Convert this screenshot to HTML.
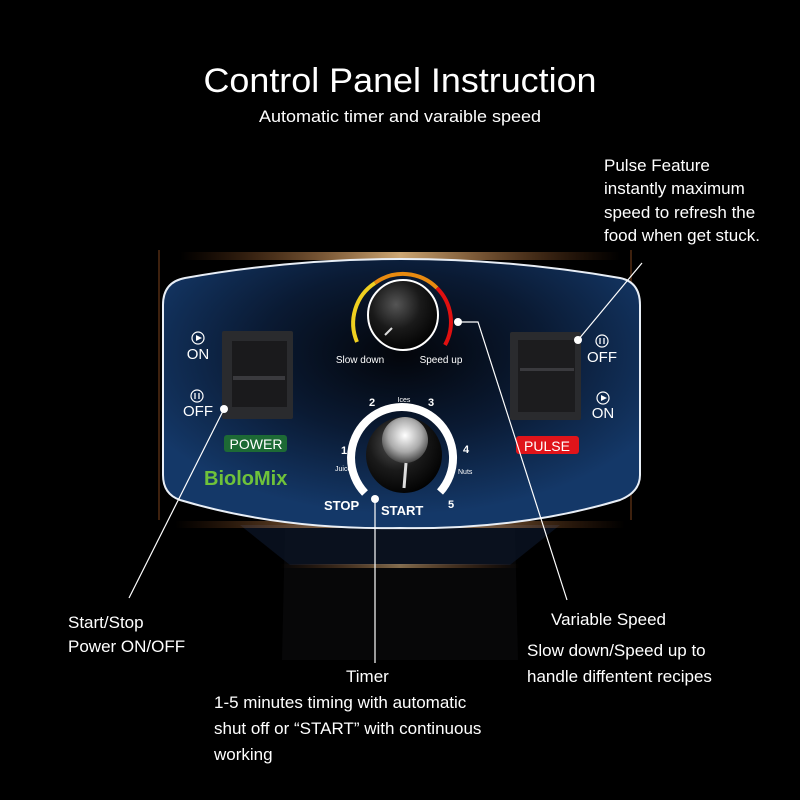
<!DOCTYPE html>
<html><head><meta charset="utf-8"><style>
html,body{margin:0;padding:0;background:#000;width:800px;height:800px;overflow:hidden}
svg{display:block}
text{font-family:"Liberation Sans Narrow","Liberation Sans",sans-serif;fill:#fff}
</style></head><body>
<svg width="800" height="800" viewBox="0 0 800 800" xmlns="http://www.w3.org/2000/svg">
<defs>
<radialGradient id="pg" cx="0.5" cy="0.35" r="0.6">
<stop offset="0" stop-color="#03050a"/><stop offset="0.5" stop-color="#0a1a33"/><stop offset="1" stop-color="#143868"/>
</radialGradient>
<linearGradient id="glow" x1="0" x2="1"><stop offset="0" stop-color="#c06020" stop-opacity="0"/><stop offset="0.5" stop-color="#ffd090"/><stop offset="1" stop-color="#c06020" stop-opacity="0"/></linearGradient>
<radialGradient id="knob" cx="0.4" cy="0.35" r="0.7"><stop offset="0" stop-color="#555"/><stop offset="0.5" stop-color="#1a1a1a"/><stop offset="1" stop-color="#000"/></radialGradient>
<radialGradient id="metal" cx="0.5" cy="0.4" r="0.6"><stop offset="0" stop-color="#fff"/><stop offset="0.6" stop-color="#aaa"/><stop offset="1" stop-color="#444"/></radialGradient>
</defs>
<rect width="800" height="800" fill="#000"/>
<!-- faint blender body -->
<path d="M285 528 L515 528 L518 660 L282 660 Z" fill="#070708"/>
<path d="M240 525 L560 525 L510 565 L290 565 Z" fill="#0b1628" opacity="0.7"/>
<rect x="280" y="564" width="240" height="4" fill="url(#glow)" opacity="0.5"/>
<!-- side glows -->
<rect x="158" y="250" width="2" height="270" fill="#8a4a1e" opacity="0.45"/>
<rect x="630" y="250" width="2" height="270" fill="#8a4a1e" opacity="0.45"/>
<rect x="180" y="252" width="440" height="8" fill="url(#glow)" opacity="0.8"/>
<rect x="175" y="521" width="450" height="7" fill="url(#glow)" opacity="0.8"/>
<!-- panel -->
<path d="M185 278 Q400 240 620 278 Q640 282 640 305 L640 475 Q640 492 620 500 Q520 530 400 528 Q280 530 180 500 Q163 494 163 475 L163 305 Q163 282 185 278 Z" fill="url(#pg)" stroke="#e8eef6" stroke-width="2"/>
<!-- speed dial arc ticks -->
<g fill="none" stroke-width="4">
<path d="M357 342 A48 48 0 0 1 375 283" stroke="#f0d020"/>
<path d="M375 283 A48 48 0 0 1 437 288" stroke="#e88a10"/>
<path d="M437 288 A48 48 0 0 1 445 345" stroke="#e01010"/>
</g>
<circle cx="403" cy="315" r="35" fill="url(#knob)" stroke="#fff" stroke-width="2"/>
<line x1="385" y1="335" x2="392" y2="328" stroke="#ddd" stroke-width="2"/>
<text x="360" y="363" font-size="10" text-anchor="middle" fill="#ddd">Slow down</text>
<text x="441" y="363" font-size="10" text-anchor="middle" fill="#ddd">Speed up</text>
<!-- switches -->
<rect x="222" y="331" width="71" height="88" rx="2" fill="#2a2b2e"/>
<rect x="232" y="341" width="55" height="66" fill="#1a1a1c"/>
<rect x="233" y="376" width="52" height="4" fill="#3a3a3e"/>
<rect x="510" y="332" width="71" height="88" rx="2" fill="#2a2b2e"/>
<rect x="518" y="340" width="57" height="72" fill="#1c1c1e"/>
<rect x="520" y="368" width="54" height="3" fill="#3a3a3e"/>
<!-- ON/OFF -->
<g fill="none" stroke="#fff" stroke-width="1.2">
<circle cx="198" cy="338" r="6"/><circle cx="197" cy="396" r="6"/>
<circle cx="602" cy="341" r="6"/><circle cx="603" cy="398" r="6"/>
</g>
<path d="M196 335 L202 338 L196 341Z M601 395 L607 398 L601 401Z" fill="#fff"/>
<path d="M195 393 v6 M199 393 v6 M600 338 v6 M604 338 v6" stroke="#fff" stroke-width="1.3"/>
<text x="198" y="359" font-size="15" text-anchor="middle" font-family="Liberation Sans">ON</text>
<text x="198" y="416" font-size="15" text-anchor="middle" font-family="Liberation Sans">OFF</text>
<text x="602" y="362" font-size="15" text-anchor="middle" font-family="Liberation Sans">OFF</text>
<text x="603" y="418" font-size="15" text-anchor="middle" font-family="Liberation Sans">ON</text>
<!-- labels -->
<rect x="224" y="435" width="63" height="17" rx="3" fill="#1d6a35"/>
<text x="256" y="449" font-size="14" text-anchor="middle" font-family="Liberation Sans">POWER</text>
<rect x="516" y="436" width="63" height="18" rx="3" fill="#e0141a"/>
<text x="547" y="451" font-size="14" text-anchor="middle" font-family="Liberation Sans">PULSE</text>
<text x="204" y="485" font-size="20" font-weight="bold" font-family="Liberation Sans" style="fill:#6fc23a">BioloMix</text>
<!-- timer dial -->
<path d="M365 493 A51 51 0 1 1 440 492" fill="none" stroke="#fff" stroke-width="8"/>
<circle cx="404" cy="455" r="38" fill="url(#knob)"/>
<circle cx="405" cy="440" r="23" fill="url(#metal)"/>
<line x1="406" y1="463" x2="404" y2="488" stroke="#ddd" stroke-width="3"/>
<g font-family="Liberation Sans" font-weight="bold" font-size="11">
<text x="369" y="406">2</text><text x="428" y="406">3</text><text x="341" y="454">1</text><text x="463" y="453">4</text><text x="448" y="508">5</text>
<text x="324" y="510" font-size="13">STOP</text><text x="381" y="515" font-size="13">START</text>
</g>
<text x="404" y="402" font-size="7" text-anchor="middle" font-family="Liberation Sans">Ices</text>
<text x="335" y="471" font-size="7" font-family="Liberation Sans">Juice</text>
<text x="458" y="474" font-size="7" font-family="Liberation Sans">Nuts</text>
<!-- connectors -->
<g stroke="#fff" stroke-width="1.2" fill="none">
<line x1="224" y1="409" x2="129" y2="598"/>
<line x1="375" y1="499" x2="375" y2="663"/>
<polyline points="458,322 478,322 567,600"/>
<line x1="578" y1="340" x2="642" y2="263"/>
</g>
<g fill="#fff"><circle cx="224" cy="409" r="4"/><circle cx="375" cy="499" r="4"/><circle cx="458" cy="322" r="4"/><circle cx="578" cy="340" r="4"/></g>
<!-- text -->
<text x="400" y="92" font-size="34" text-anchor="middle" textLength="393" lengthAdjust="spacingAndGlyphs">Control Panel Instruction</text>
<text x="400" y="122" font-size="17" text-anchor="middle" textLength="282" lengthAdjust="spacingAndGlyphs">Automatic timer and varaible speed</text>
<g font-size="17">
<text x="604" y="171">Pulse Feature</text>
<text x="604" y="194">instantly maximum</text>
<text x="604" y="218">speed to refresh the</text>
<text x="604" y="241">food when get stuck.</text>
<text x="68" y="628">Start/Stop</text>
<text x="68" y="652">Power ON/OFF</text>
<text x="346" y="682">Timer</text>
<text x="214" y="708">1-5 minutes timing with automatic</text>
<text x="214" y="734">shut off or “START” with continuous</text>
<text x="214" y="760">working</text>
<text x="551" y="625">Variable Speed</text>
<text x="527" y="656">Slow down/Speed up to</text>
<text x="527" y="682">handle diffentent recipes</text>
</g>
</svg>
</body></html>
